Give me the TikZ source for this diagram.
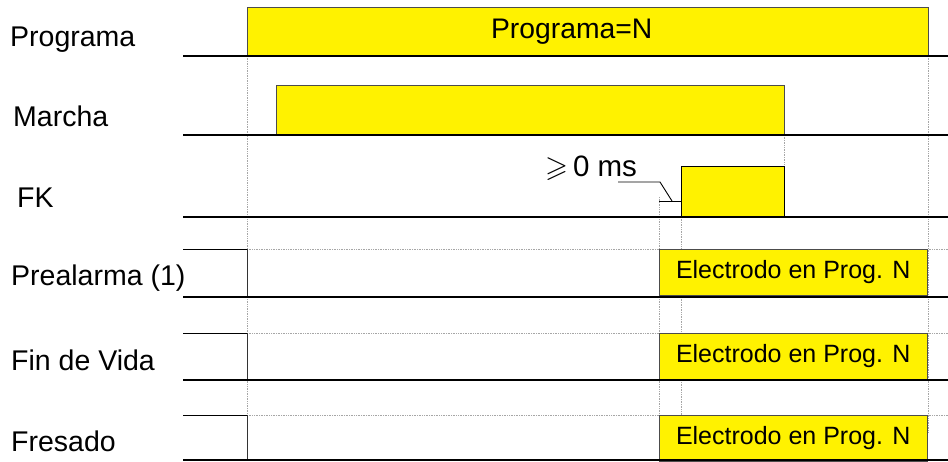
\documentclass[tikz,border=0pt]{standalone}
\usepackage{amssymb}
\usepackage{fontspec}
\setmainfont{Liberation Sans}
\usetikzlibrary{positioning,calc}

\tikzset{
    lbl/.style={anchor=west, inner sep=0pt, font=\fontsize{28.5}{31}\selectfont},
    pulse/.style={draw=gray!60!black, fill=yellow, inner sep=0pt, anchor=north west, font=\fontsize{28.3}{31}\selectfont},
    alarm/.style={pulse, minimum width=268pt, minimum height=46pt, font=\fontsize{25}{28}\selectfont},
    base/.style={line width=2.6pt},
    level/.style={line width=0.9pt},
    guide/.style={gray!70, densely dotted, line width=0.7pt}
}

\begin{document}
\begin{tikzpicture}[x=1pt, y=-1pt]
\useasboundingbox (0,0) rectangle (948,462);

% Guide lines
\draw[guide] (247,56) -- (247,460);
\draw[guide] (928,56) -- (928,432);
\draw[guide] (784,135) -- (784,166);
\draw[guide] (659,197) -- (659,432);
\draw[guide] (681,217) -- (681,416);
\foreach \y in {249,333,415}
    \draw[guide] (247,\y) -- (948,\y);

% Signal names
\node[lbl] (programa) at (10,40) {Programa};
\node[lbl] (marcha) at (13,116) {Marcha};
\node[lbl] (fk) at (17,198) {FK};
\node[lbl] (prealarma) at (11,278) {Prealarma (1)};
\node[lbl] (vida) at (11,360) {Fin de Vida};
\node[lbl] (fresado) at (11,441) {Fresado};

% Pulses
\node[pulse, minimum width=681pt, minimum height=49pt] (prog_n) at (247,7) {Programa=N\hspace*{32pt}};
\node[pulse, minimum width=508pt, minimum height=50pt] (marcha_on) at (276,85) {};
\node[pulse, draw=black, minimum width=103pt, minimum height=51pt] (fk_on) at (681,166) {};
\node[alarm] (pre_n) at (659,249) {Electrodo en Prog. N};
\node[alarm] (vida_n) at (659,333) {Electrodo en Prog. N};
\node[alarm] (fres_n) at (659,415) {Electrodo en Prog. N};

% Levels before the pulses
\foreach \hi/\lo in {249/297,333/380,415/460} {
    \draw[level] (183,\hi) -- (247,\hi);
    \draw[level, gray!40!black] (247,\hi) -- (247,\lo);
}

% Base lines
\foreach \y in {56,135,217,297,380,460}
    \draw[base] (183,\y) -- (948,\y);

% Delay of FK
\draw[level] (659,201) -- (fk_on.west |- 0,201);
\coordinate (fkstep) at (672,201);
\coordinate (knee) at (660,182);
\coordinate (lead) at (618,182);
\node[anchor=base west, inner sep=0pt, font=\fontsize{29.5}{32}\selectfont] (delay) at (545,177) {$\geqslant$\,0 ms};
\draw[level] (fkstep) -- (knee) -- (lead);

\end{tikzpicture}
\end{document}
